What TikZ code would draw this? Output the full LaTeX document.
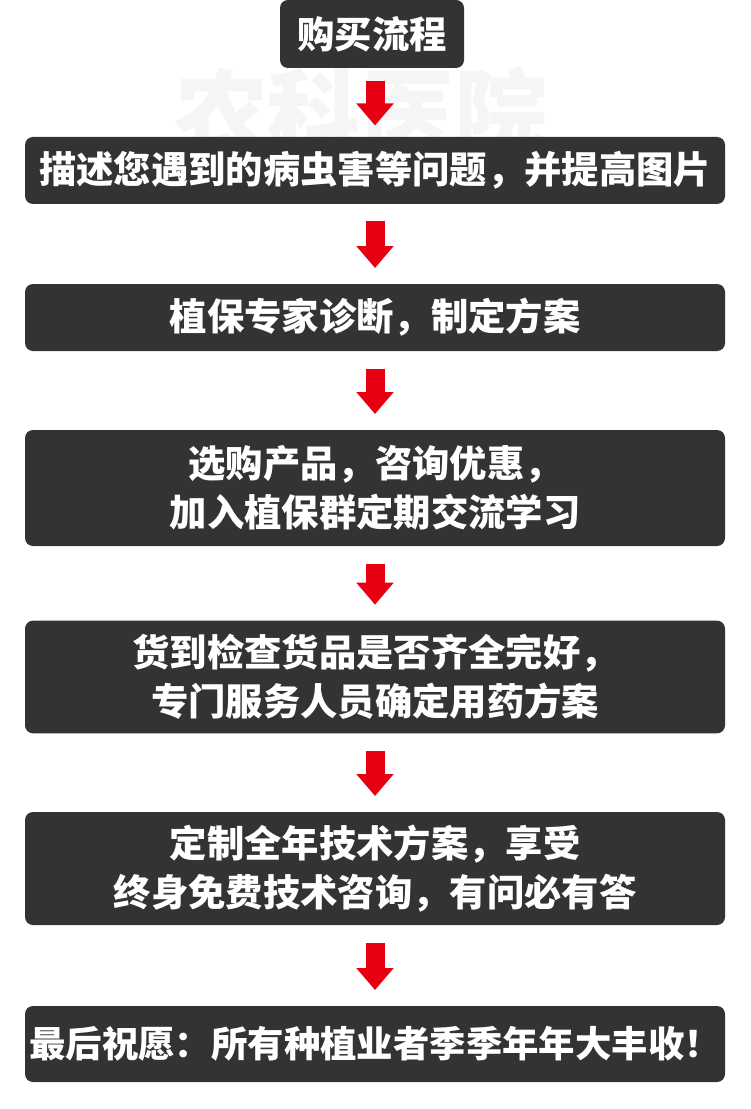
\documentclass[tikz,border=0pt]{standalone}
\usepackage{fontspec}
\newfontfamily\cjk{Noto Sans CJK SC}
\usetikzlibrary{arrows.meta}

\definecolor{boxgray}{RGB}{51,51,51}
\definecolor{flowred}{RGB}{230,0,18}

\tikzset{every picture/.style={line width=0.75pt}}
\tikzset{
  stepbox/.style={fill=boxgray, rounded corners=6pt, inner sep=0pt, text=white,
    align=center, font=\cjk\bfseries\fontsize{28pt}{36.75pt}\selectfont},
  flowarrow/.style={draw=flowred, line width=14.25pt,
    -{Triangle[width=27pt,length=16.5pt]}, shorten <=12.75pt, shorten >=11.6pt}
}

\begin{document}
\begin{tikzpicture}[x=0.75pt,y=0.75pt,yscale=-1,xscale=1]
\path[use as bounding box] (0,0) rectangle (750,1109);

% Watermark
\node[text=black!4, font=\cjk\bfseries\fontsize{70pt}{70pt}\selectfont] (mark) at (361,112) {农科医院};

% Title
\node[stepbox, minimum width=138pt, minimum height=51pt] (title) at (372,34) {购买流程};

% Steps
\node[stepbox, minimum width=525pt, minimum height=50.25pt] (s1) at (375,170.5) {描述您遇到的病虫害等问题，并提高图片};
\node[stepbox, minimum width=525pt, minimum height=50.25pt] (s2) at (375,317.5) {植保专家诊断，制定方案};
\node[stepbox, minimum width=525pt, minimum height=87pt] (s3) at (375,488) {选购产品，咨询优惠，\\加入植保群定期交流学习};
\node[stepbox, minimum width=525pt, minimum height=84.5pt] (s4) at (375,677) {货到检查货品是否齐全完好，\\专门服务人员确定用药方案};
\node[stepbox, minimum width=525pt, minimum height=84.75pt] (s5) at (375,868.5) {定制全年技术方案，享受\\终身免费技术咨询，有问必有答};
\node[stepbox, minimum width=525pt, minimum height=57pt, font=\cjk\bfseries\fontsize{27.3pt}{36pt}\selectfont] (s6) at (375,1044) {最后祝愿：所有种植业者季季年年大丰收！};

% Arrows
\draw[flowarrow, shorten <=9.75pt, shorten >=8.25pt] (s1.north |- title.south) -- (s1.north);
\draw[flowarrow] (s1.south) -- (s2.north);
\draw[flowarrow] (s2.south) -- (s3.north);
\draw[flowarrow] (s3.south) -- (s4.north);
\draw[flowarrow] (s4.south) -- (s5.north);
\draw[flowarrow] (s5.south) -- (s6.north);

\end{tikzpicture}
\end{document}
